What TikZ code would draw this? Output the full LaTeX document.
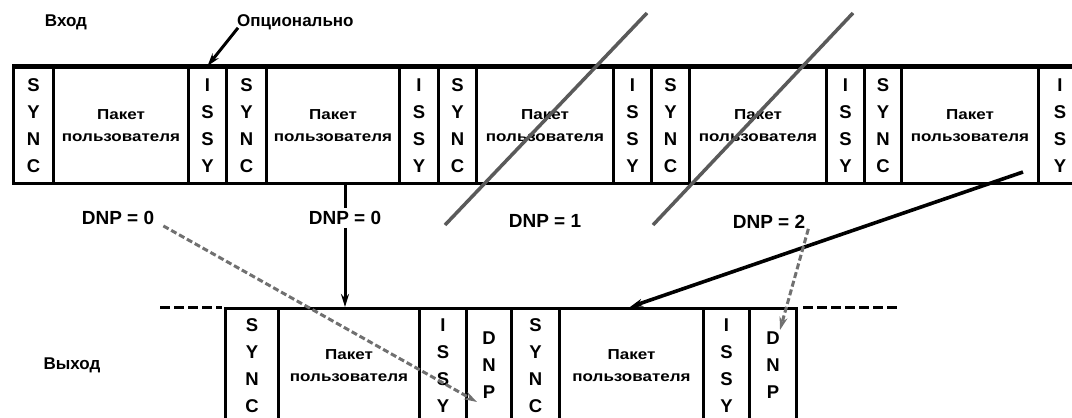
\documentclass[tikz,border=0pt]{standalone}
\usepackage{fontspec}
\setmainfont{Liberation Sans}
\usepackage{graphicx}
\usetikzlibrary{arrows.meta,calc}
\definecolor{lgray}{HTML}{5A5A5A}
\definecolor{dgray}{HTML}{707070}
\newcommand\flatx[1]{\scalebox{1}[0.85]{#1}}
\begin{document}
\begin{tikzpicture}[x=1pt,y=1pt,
  every node/.style={font=\bfseries\fontsize{17}{20}\selectfont},
  cell/.style={draw, line width=3pt, anchor=north west, inner sep=0pt, minimum height=116pt, align=center},
  bot/.style={minimum height=114pt},
  cSync/.style={cell, font=\bfseries\fontsize{18.5}{27}\selectfont, node contents={S\\Y\\N\\C}},
  cIssy/.style={cell, font=\bfseries\fontsize{18.5}{27}\selectfont, node contents={I\\S\\S\\Y}},
  cDnp/.style={cell, font=\bfseries\fontsize{18.5}{27}\selectfont, node contents={D\\N\\P}},
  cPak/.style={cell, font=\bfseries\fontsize{17}{22}\selectfont, node contents={\flatx{Пакет}\\\flatx{пользователя}}},
  lbl/.style={inner sep=3pt, font=\bfseries\fontsize{19}{22}\selectfont},
  arr/.style={draw=black, line width=3pt, -{Stealth[length=13pt,width=8pt]}},
  gline/.style={draw=lgray, line width=3.5pt},
  garr/.style={draw=dgray, line width=3pt, dash pattern=on 6pt off 3pt, -{Stealth[length=13pt,width=8pt]}},
  odash/.style={draw=black, line width=3pt, dash pattern=on 10pt off 4pt}
]
\useasboundingbox (0,0) rectangle (1072,-418);
\clip (0,0) rectangle (1072,-418);
% top row
\node (t1) at (12,-66) [cSync, minimum width=40pt];
\node (t2) at (52,-66) [cPak, minimum width=135pt];
\node (t3) at (187,-66) [cIssy, minimum width=38pt];
\node (t4) at (225,-66) [cSync, minimum width=40pt];
\node (t5) at (265,-66) [cPak, minimum width=133pt];
\node (t6) at (398,-66) [cIssy, minimum width=39pt];
\node (t7) at (437,-66) [cSync, minimum width=38pt];
\node (t8) at (475,-66) [cPak, minimum width=137pt];
\node (t9) at (612,-66) [cIssy, minimum width=38pt];
\node (t10) at (650,-66) [cSync, minimum width=38pt];
\node (t11) at (688,-66) [cPak, minimum width=137pt];
\node (t12) at (825,-66) [cIssy, minimum width=38pt];
\node (t13) at (863,-66) [cSync, minimum width=37pt];
\node (t14) at (900,-66) [cPak, minimum width=137pt];
\node (t15) at (1037,-66) [cIssy, minimum width=43pt];
\draw[line width=5pt] (t1.north west) -- (t15.north east);
% bottom row
\node (b1) at (224,-307) [cSync, bot, minimum width=53pt];
\node (b2) at (277,-307) [cPak, bot, minimum width=141pt];
\node (b3) at (418,-307) [cIssy, bot, minimum width=47pt];
\node (b4) at (465,-307) [cDnp, bot, minimum width=45pt];
\node (b5) at (510,-307) [cSync, bot, minimum width=48pt];
\node (b6) at (558,-307) [cPak, bot, minimum width=144pt];
\node (b7) at (702,-307) [cIssy, bot, minimum width=46pt];
\node (b8) at (748,-307) [cDnp, bot, minimum width=47pt];
\draw[odash] ($(b1.north west)+(-64,0)$) -- ($(b1.north west)+(-2,0)$);
\draw[odash] ($(b8.north east)+(5,0)$) -- ($(b8.north east)+(102,0)$);
% labels
\node (vhod) at (66,-22) {Вход};
\node (opt) [anchor=west, inner sep=1pt] at (236,-22) {Опционально};
\node (vyhod) at (72,-365) {Выход};
\node (dnpA) [lbl] at (118,-218) {DNP = 0};
\node (dnpB) [lbl, fill=white] at (345,-218) {DNP = 0};
\node (dnp1) [lbl] at (545,-221) {DNP = 1};
\node (dnp2) [lbl] at (769,-222) {DNP = 2};
% connectors
\draw[arr] ($(opt.south west)+(2,3)$) -- (t3.north);
\draw[line width=3pt] (dnpB |- t5.south) -- (dnpB.north);
\draw[arr] (dnpB.south) -- (dnpB |- b2.north);
\coordinate (g1s) at (647,-13);
\coordinate (g1e) at (445,-225);
\coordinate (g2s) at (853,-13);
\coordinate (g2e) at (653,-225);
\draw[gline] (g1s) -- (g1e);
\draw[gline] (g2s) -- (g2e);
\coordinate (kst) at (1023,-172);
\draw[arr, line width=3.6pt] (kst) -- ($(b6.north west)+(72,0)$);
\coordinate (dA) at (477,-402);
\draw[garr] ($(dnpA.south east)+(6,2)$) -- (dA);
\draw[garr] ($(dnp2.south east)+(0,3)$) -- ($(b8.north west)+(32,-23)$);
\end{tikzpicture}
\end{document}
